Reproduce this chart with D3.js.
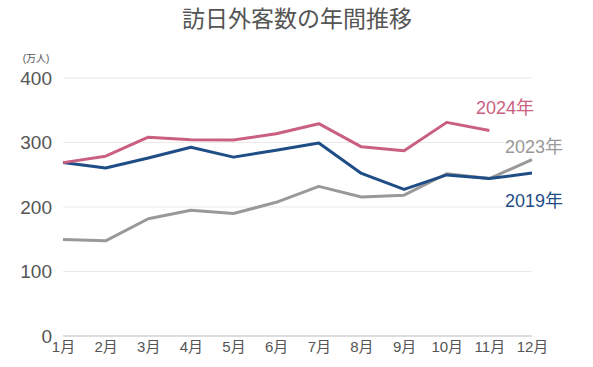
<!DOCTYPE html>
<html>
<head>
<meta charset="utf-8">
<script src="https://cdn.jsdelivr.net/npm/d3@7"></script>
<style>
  body { margin: 0; background: #fff; }
  svg text { font-family: "Liberation Sans", "Noto Sans CJK JP", sans-serif; }
</style>
</head>
<body>
<div class="visualization"></div>
<script>
// chart data
var months = ["1月","2月","3月","4月","5月","6月","7月","8月","9月","10月","11月","12月"];
var yTicks = [0, 100, 200, 300, 400];
var v2019 = [268.9, 260.4, 276.1, 292.7, 277.3, 288.0, 299.1, 252.0, 227.3, 249.7, 244.1, 252.6];
var v2023 = [149.7, 147.5, 181.8, 194.9, 189.9, 207.3, 232.0, 215.6, 218.4, 251.6, 244.1, 273.4];
var v2024 = [268.8, 278.8, 308.2, 304.3, 304.0, 313.5, 329.2, 293.3, 287.2, 331.2, 318.7];
var seriesNames = ["2019年", "2023年", "2024年"];

var width = 593, height = 367;
var fontStack = "'Liberation Sans', 'Noto Sans CJK JP', sans-serif";

var svg = d3.select(".visualization").append("svg")
    .attr("width", width)
    .attr("height", height);

var xScale = d3.scalePoint().domain(months).range([63, 532]);
var yScale = d3.scaleLinear().domain([0, 400]).range([336, 78]);

// title
svg.append("text")
    .attr("x", 297).attr("y", 27)
    .attr("text-anchor", "middle")
    .attr("font-size", 23)
    .attr("fill", "#555")
    .style("font-family", "'Noto Sans CJK JP', sans-serif")
    .text("訪日外客数の年間推移");

// unit
svg.append("text")
    .attr("x", 36).attr("y", 62)
    .attr("text-anchor", "middle")
    .attr("font-size", 10)
    .attr("fill", "#555")
    .text("(万人)");

// gridlines
svg.selectAll(".grid")
    .data(yTicks)
    .enter().append("line")
    .attr("class", "grid")
    .attr("x1", 63).attr("x2", 532)
    .attr("y1", function(d){ return yScale(d); })
    .attr("y2", function(d){ return yScale(d); })
    .attr("stroke", function(d){ return d === 0 ? "#bbb" : "#eaeaea"; })
    .attr("stroke-width", 1);

// y axis labels
var yAxis = d3.axisLeft(yScale).tickValues(yTicks).tickSize(0).tickPadding(11);
var gy = svg.append("g").attr("transform", "translate(63,0)").call(yAxis);
gy.select(".domain").remove();
gy.selectAll("text")
    .attr("font-size", 19)
    .attr("fill", "#555")
    .style("font-family", fontStack);

// x axis labels
var xAxis = d3.axisBottom(xScale).tickSize(0).tickPadding(5);
var gx = svg.append("g").attr("transform", "translate(0,336)").call(xAxis);
gx.select(".domain").remove();
gx.selectAll("text")
    .attr("font-size", 15)
    .attr("fill", "#555")
    .style("font-family", fontStack);

var line = d3.line()
    .x(function(d, i){ return xScale(months[i]); })
    .y(function(d){ return yScale(d); });

var series = [
    {name: seriesNames[1], values: v2023, color: "#999999"},
    {name: seriesNames[0], values: v2019, color: "#1f4d86"},
    {name: seriesNames[2], values: v2024, color: "#c9607f"}
];

svg.selectAll(".series")
    .data(series)
    .enter().append("path")
    .attr("class", "series")
    .attr("d", function(d){ return line(d.values); })
    .attr("fill", "none")
    .attr("stroke", function(d){ return d.color; })
    .attr("stroke-width", 3)
    .attr("stroke-linejoin", "round");

// series labels
var labelPos = {"2024年": [476, 114], "2023年": [505, 153], "2019年": [505, 207]};
svg.selectAll(".label")
    .data(series)
    .enter().append("text")
    .attr("class", "label")
    .attr("x", function(d){ return labelPos[d.name][0]; })
    .attr("y", function(d){ return labelPos[d.name][1]; })
    .attr("font-size", 18)
    .attr("fill", function(d){ return d.color; })
    .text(function(d){ return d.name; });
</script>
</body>
</html>
